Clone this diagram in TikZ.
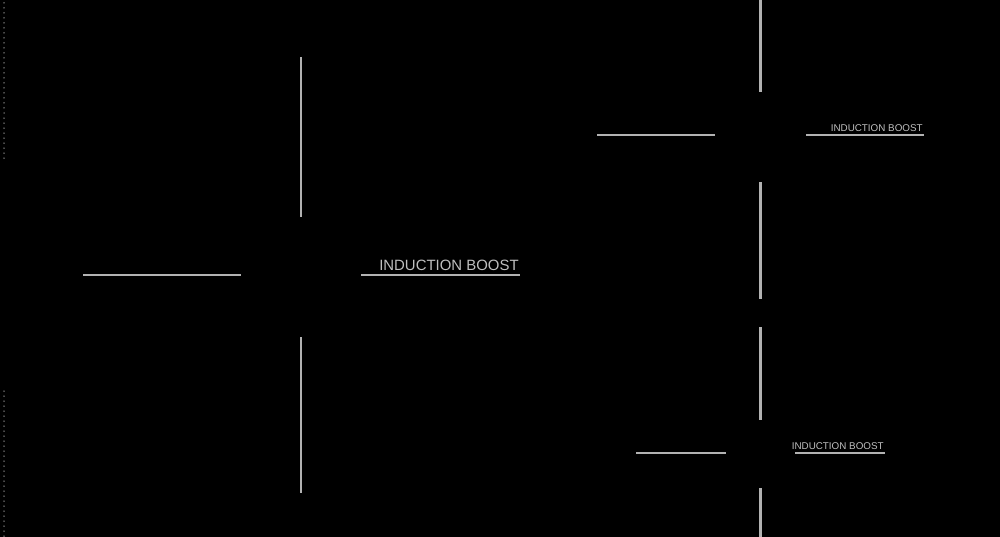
\documentclass[tikz,border=0pt]{standalone}
\usepackage{fontspec}
\setmainfont{Liberation Sans}
\begin{document}
\begin{tikzpicture}[x=0.02cm,y=-0.02cm,
  bar/.style={draw=black!30!white,line width=1.7pt},
  lbl/.style={text=black!25!white,inner sep=0pt,anchor=south east},
  dot/.style={fill=black!40!white,draw=none}]
\fill[black] (0,0) rectangle (1000,537);
\useasboundingbox (0,0) rectangle (1000,537);
\foreach \y in {3,8,...,158} \fill[dot] (4,\y) circle (0.75);
\foreach \y in {391,396,...,537} \fill[dot] (4,\y) circle (0.75);
% burner 1
\coordinate (a1) at (301,57); \coordinate (a2) at (301,217);
\coordinate (a3) at (301,337); \coordinate (a4) at (301,493);
\coordinate (a5) at (83,275); \coordinate (a6) at (241,275);
\coordinate (a7) at (361,275); \coordinate (a8) at (520,275);
\draw[bar] (a1)--(a2); \draw[bar] (a3)--(a4); \draw[bar] (a5)--(a6); \draw[bar] (a7)--(a8);
\node[lbl,font=\fontsize{8.5}{9}\selectfont] (l1) at (519,271) {INDUCTION BOOST};
% burner 2
\coordinate (b1) at (760,0); \coordinate (b2) at (760,92);
\coordinate (b3) at (760,182); \coordinate (b4) at (760,299);
\coordinate (b5) at (597,135); \coordinate (b6) at (715,135);
\coordinate (b7) at (806,135); \coordinate (b8) at (924,135);
\draw[bar] (b1)--(b2); \draw[bar] (b3)--(b4); \draw[bar] (b5)--(b6); \draw[bar] (b7)--(b8);
\node[lbl,font=\fontsize{5.6}{6}\selectfont] (l2) at (923,132) {INDUCTION BOOST};
% burner 3
\coordinate (c1) at (760,327); \coordinate (c2) at (760,420);
\coordinate (c3) at (760,488); \coordinate (c4) at (760,537);
\coordinate (c5) at (636,453); \coordinate (c6) at (726,453);
\coordinate (c7) at (795,453); \coordinate (c8) at (885,453);
\draw[bar] (c1)--(c2); \draw[bar] (c3)--(c4); \draw[bar] (c5)--(c6); \draw[bar] (c7)--(c8);
\node[lbl,font=\fontsize{5.6}{6}\selectfont] (l3) at (884,450) {INDUCTION BOOST};
\end{tikzpicture}
\end{document}
